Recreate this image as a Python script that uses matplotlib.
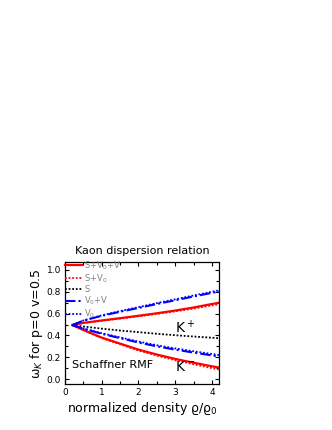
import matplotlib
matplotlib.use("Agg")
import matplotlib.pyplot as plt
from matplotlib.ticker import MultipleLocator

plt.rcParams['font.family'] = ['DejaVu Sans']
plt.rcParams['mathtext.fontset'] = 'dejavusans'

density = [0.2, 0.5, 1.0, 1.5, 2.0, 2.5, 3.0, 3.5, 4.0, 4.2]

# K+ branch
kp_SV0V = [0.495, 0.515, 0.537, 0.558, 0.580, 0.603, 0.628, 0.656, 0.688, 0.700]
kp_SV0  = [0.495, 0.514, 0.534, 0.554, 0.575, 0.597, 0.620, 0.646, 0.675, 0.686]
kp_V0V  = [0.495, 0.535, 0.580, 0.617, 0.652, 0.688, 0.722, 0.757, 0.790, 0.803]
kp_V0   = [0.495, 0.537, 0.584, 0.623, 0.659, 0.696, 0.731, 0.766, 0.800, 0.813]
# scalar only (same for K+ and K-)
s_only  = [0.495, 0.482, 0.462, 0.445, 0.430, 0.415, 0.402, 0.390, 0.379, 0.374]
# K- branch
km_SV0V = [0.495, 0.450, 0.380, 0.325, 0.270, 0.225, 0.185, 0.150, 0.117, 0.106]
km_SV0  = [0.495, 0.448, 0.376, 0.319, 0.262, 0.215, 0.173, 0.136, 0.100, 0.088]
km_V0V  = [0.495, 0.462, 0.415, 0.375, 0.335, 0.300, 0.270, 0.243, 0.217, 0.207]
km_V0   = [0.495, 0.464, 0.420, 0.382, 0.344, 0.310, 0.281, 0.255, 0.230, 0.220]

labels = ["S+V$_0$+V", "S+V$_0$", "S", "V$_0$+V", "V$_0$"]

fig = plt.figure(figsize=(3.32, 4.30), dpi=100)
ax = fig.add_axes([65/332, 1 - 384/430, (219.3 - 65)/332, (384 - 262.3)/430])

red = '#ff0000'
blue = '#0000ff'
h1, = ax.plot(density, kp_SV0V, color=red, lw=1.6, ls='-')
ax.plot(density, km_SV0V, color=red, lw=1.6, ls='-')
h2, = ax.plot(density, kp_SV0, color=red, lw=1.3, ls=(0, (1, 1)))
ax.plot(density, km_SV0, color=red, lw=1.3, ls=(0, (1, 1)))
h3, = ax.plot(density, s_only, color='black', lw=1.3, ls=(0, (1, 1)))
h4, = ax.plot(density, kp_V0V, color=blue, lw=1.5, ls=(0, (5, 1.5, 1, 1.5)))
ax.plot(density, km_V0V, color=blue, lw=1.5, ls=(0, (5, 1.5, 1, 1.5)))
h5, = ax.plot(density, kp_V0, color=blue, lw=1.3, ls=(0, (1, 1)))
ax.plot(density, km_V0, color=blue, lw=1.3, ls=(0, (1, 1)))

leg = ax.legend([h1, h2, h3, h4, h5], labels, loc='upper left', frameon=False,
                fontsize=6, handlelength=2.0, handletextpad=0.3,
                labelspacing=0.05, borderaxespad=0.0, borderpad=0.0,
                bbox_to_anchor=(0.0, 1.025), labelcolor='#808080')

ax.set_xlim(0, 4.2)
ax.set_ylim(-0.045, 1.07)
ax.xaxis.set_major_locator(MultipleLocator(1))
ax.xaxis.set_minor_locator(MultipleLocator(0.5))
ax.yaxis.set_major_locator(MultipleLocator(0.2))
ax.yaxis.set_minor_locator(MultipleLocator(0.1))
ax.tick_params(which='both', direction='in', top=True, right=True, labelsize=6.5, width=0.8, pad=3)
ax.tick_params(which='major', length=3)
ax.tick_params(which='minor', length=2)
for s in ax.spines.values():
    s.set_linewidth(0.9)

ax.text(3.0, 0.475, "K$^+$", fontsize=10, va='center', ha='left')
ax.text(3.0, 0.11, "K$^-$", fontsize=10, va='center', ha='left')
ax.text(0.18, 0.13, "Schaffner RMF", fontsize=8, va='center', ha='left')

ax.set_title("Kaon dispersion relation", fontsize=8, pad=6)
ax.set_xlabel("normalized density ϱ/ϱ$_0$", fontsize=9, labelpad=2)
ax.set_ylabel("ω$_K$ for p=0 v=0.5", fontsize=9, labelpad=1)

fig.savefig("out.png", dpi=100)
